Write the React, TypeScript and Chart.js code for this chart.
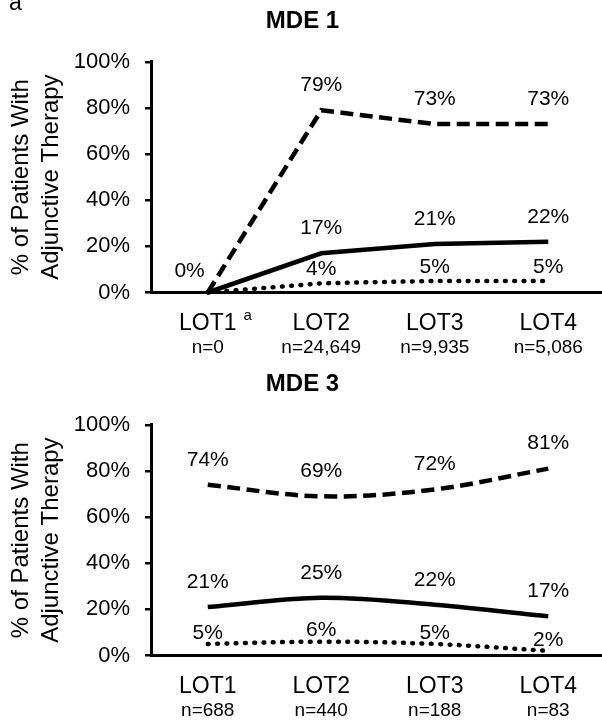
import { useEffect, useRef } from 'react';
import { Chart, registerables } from 'chart.js';

Chart.register(...registerables);

const FONT = '"Liberation Sans", Arial, Helvetica, sans-serif';

// Lines of therapy shared by both panels
const lotLabels = ['LOT1', 'LOT2', 'LOT3', 'LOT4'];
const yTicks = [0, 20, 40, 60, 80, 100];

// MDE 1
const mde1Counts = ['n=0', 'n=24,649', 'n=9,935', 'n=5,086'];
const mde1Upper = [0, 79, 73, 73];
const mde1Middle = [0, 17, 21, 22];
const mde1Lower = [0, 4, 5, 5];

// MDE 3
const mde3Counts = ['n=688', 'n=440', 'n=188', 'n=83'];
const mde3Upper = [74, 69, 72, 81];
const mde3Middle = [21, 25, 22, 17];
const mde3Lower = [5, 6, 5, 2];

const CANVAS_W = 605;
const CANVAS_H = 362;
const AXIS_BAND = 69.5;

type PanelProps = {
  title: string;
  counts: string[];
  upper: number[];
  middle: number[];
  lower: number[];
  tension: number;
  lowerOffset: number;
  top: number;
  tag?: string;
  footnoteIndex?: number;
};

function Panel(p: PanelProps) {
  const ref = useRef<HTMLCanvasElement>(null);

  useEffect(() => {
    const textPlugin = {
      id: 'panelText',
      afterDatasetsDraw(chart: any) {
        const ctx = chart.ctx as CanvasRenderingContext2D;
        const xScale = chart.scales.x;
        const area = chart.chartArea;
        ctx.save();
        ctx.fillStyle = '#000';

        // value labels above each point
        ctx.font = `21px ${FONT}`;
        ctx.textBaseline = 'middle';
        const count = chart.data.labels.length;
        for (let i = 0; i < count; i++) {
          const vals = chart.data.datasets.map((d: any) => d.data[i]);
          const same = vals.every((v: number) => v === vals[0]);
          if (same) {
            const pt = chart.getDatasetMeta(0).data[i];
            ctx.textAlign = 'right';
            ctx.fillText(`${vals[0]}%`, pt.x - 3, pt.y - 21.5);
            continue;
          }
          chart.data.datasets.forEach((ds: any, di: number) => {
            const pt = chart.getDatasetMeta(di).data[i];
            ctx.textAlign = 'center';
            ctx.fillText(`${ds.data[i]}%`, pt.x, pt.y - ds.labelOffset);
          });
        }

        // category labels with patient counts beneath
        ctx.textBaseline = 'alphabetic';
        ctx.textAlign = 'center';
        lotLabels.forEach((lab, i) => {
          const cx = xScale.getPixelForValue(i);
          ctx.font = `23px ${FONT}`;
          ctx.fillText(lab, cx, area.bottom + 37.5);
          if (p.footnoteIndex === i) {
            const w = ctx.measureText(lab).width;
            ctx.font = `15px ${FONT}`;
            ctx.textAlign = 'left';
            ctx.fillText('a', cx + w / 2 + 7, area.bottom + 27.5);
            ctx.textAlign = 'center';
          }
          ctx.font = `19px ${FONT}`;
          ctx.fillText(p.counts[i], cx, area.bottom + 60);
        });

        if (p.tag) {
          ctx.font = `23px ${FONT}`;
          ctx.textAlign = 'left';
          ctx.fillText(p.tag, 9, 9.5);
        }
        ctx.restore();
      },
    };

    const base = {
      pointRadius: 0,
      pointHoverRadius: 0,
      borderColor: '#000',
      backgroundColor: '#000',
      fill: false,
      tension: p.tension,
      clip: false as const,
    };

    const chart = new Chart(ref.current as HTMLCanvasElement, {
      type: 'line',
      data: {
        labels: lotLabels,
        datasets: [
          { ...base, data: p.upper, borderWidth: 4.5, borderDash: [13, 6.5], labelOffset: 25 } as any,
          { ...base, data: p.middle, borderWidth: 4.5, labelOffset: 25 } as any,
          {
            ...base,
            data: p.lower,
            borderWidth: 4.5,
            borderDash: [0.8, 8.5],
            borderCapStyle: 'round',
            labelOffset: p.lowerOffset,
          } as any,
        ],
      },
      options: {
        responsive: false,
        animation: false,
        events: [],
        layout: { padding: 0 },
        plugins: {
          legend: { display: false },
          tooltip: { enabled: false },
          title: {
            display: true,
            text: p.title,
            color: '#000',
            font: { family: FONT, size: 24, weight: 'bold', lineHeight: 1.2 },
            padding: { top: 7, bottom: 26 },
          },
        },
        scales: {
          x: {
            type: 'category',
            offset: true,
            ticks: { display: false },
            grid: { display: false, drawTicks: false },
            border: { display: true, color: '#000', width: 3 },
            afterFit: (s: any) => {
              s.height = AXIS_BAND;
            },
          },
          y: {
            min: 0,
            max: 100,
            afterBuildTicks: (s: any) => {
              s.ticks = yTicks.map((v) => ({ value: v }));
            },
            ticks: {
              color: '#000',
              padding: 15,
              font: { family: FONT, size: 22 },
              callback: (v: any) => `${v}%`,
            },
            grid: {
              display: true,
              drawOnChartArea: false,
              drawTicks: true,
              tickLength: 6,
              color: '#000',
              lineWidth: 2.5,
            },
            border: { display: true, color: '#000', width: 3 },
            title: {
              display: true,
              text: ['% of Patients With', 'Adjunctive Therapy'],
              color: '#000',
              font: { family: FONT, size: 24, lineHeight: 1.25 },
              padding: { top: 6, bottom: 0 },
            },
            afterFit: (s: any) => {
              s.width = 151;
            },
          },
        },
      } as any,
      plugins: [textPlugin],
    });
    return () => chart.destroy();
  }, []);

  return (
    <canvas
      ref={ref}
      width={CANVAS_W}
      height={CANVAS_H}
      style={{ position: 'absolute', left: 0, top: p.top, display: 'block' }}
    />
  );
}

export default function App() {
  return (
    <div
      style={{
        position: 'absolute',
        left: 0,
        top: 0,
        width: 602,
        height: 724,
        overflow: 'hidden',
        background: '#fff',
      }}
    >
      <Panel
        title="MDE 1"
        counts={mde1Counts}
        upper={mde1Upper}
        middle={mde1Middle}
        lower={mde1Lower}
        tension={0}
        lowerOffset={14}
        top={0}
        tag="a"
        footnoteIndex={0}
      />
      <Panel
        title="MDE 3"
        counts={mde3Counts}
        upper={mde3Upper}
        middle={mde3Middle}
        lower={mde3Lower}
        tension={0.35}
        lowerOffset={11}
        top={363}
      />
    </div>
  );
}
